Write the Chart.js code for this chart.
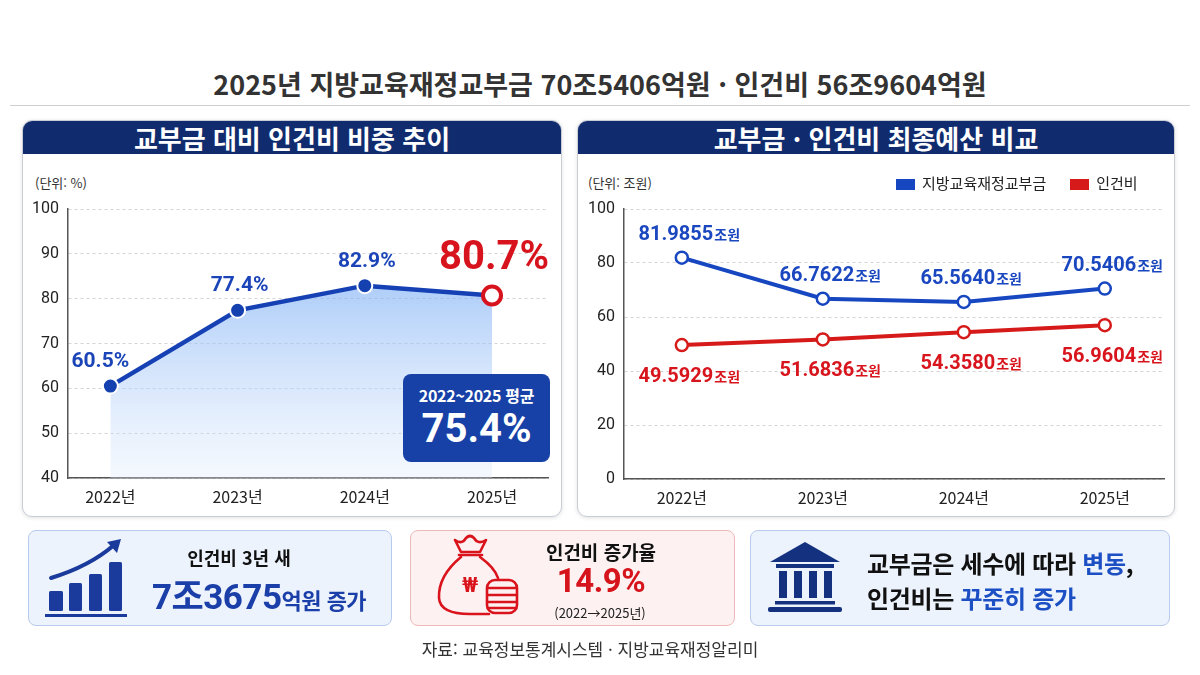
<!DOCTYPE html>
<html lang="ko">
<head>
<meta charset="utf-8">
<script src="https://cdn.jsdelivr.net/npm/chart.js@4.4.1/dist/chart.umd.min.js"></script>
<style>
  html,body{margin:0;padding:0;}
  body{width:1200px;height:675px;position:relative;overflow:hidden;background:#fff;
       font-family:"Noto Sans CJK KR","Noto Sans",sans-serif;color:#222;}
  .abs{position:absolute;}
  #title{left:0;top:64px;width:1200px;text-align:center;font-size:27px;font-weight:600;color:#333;letter-spacing:0px;}
  #rule{left:10px;top:105px;width:1180px;height:1px;background:#cfcfcf;}
  .panel{position:absolute;border:1px solid #c9cdd6;border-radius:10px;background:#fff;box-shadow:0 1px 4px rgba(0,0,0,0.12);overflow:hidden;}
  .hdr{position:absolute;left:0;top:0;right:0;height:33px;background:#112c6e;color:#fff;font-weight:700;font-size:26px;text-align:center;line-height:33px;letter-spacing:0px;}
  .unit{position:absolute;font-size:13px;color:#333;}
  .cw{position:absolute;left:0;top:32px;}
  .card{position:absolute;border-radius:8px;box-sizing:border-box;}
  .blue{background:#edf3fc;border:1px solid #b7cbee;}
  .red{background:#fdf1f1;border:1px solid #f0b9b9;}
  .t{position:absolute;white-space:nowrap;font-weight:700;}
</style>
</head>
<body>
<div id="title" class="abs">2025년 지방교육재정교부금 70조5406억원 · 인건비 56조9604억원</div>
<div id="rule" class="abs"></div>

<div class="panel" style="left:22px;top:120px;width:538px;height:395px;">
  <div class="hdr">교부금 대비 인건비 비중 추이</div>
  <div class="unit" style="left:12px;top:52px;">(단위: %)</div>
  <div class="cw" style="width:538px;height:363px;"><canvas id="c1"></canvas></div>
</div>

<div class="panel" style="left:577px;top:120px;width:596px;height:395px;">
  <div class="hdr">교부금 · 인건비 최종예산 비교</div>
  <div class="unit" style="left:10px;top:52px;">(단위: 조원)</div>
  <div class="cw" style="width:596px;height:363px;"><canvas id="c2"></canvas></div>
  <div id="legend" class="abs" style="left:318px;top:51px;font-size:15px;color:#222;white-space:nowrap;"></div>
</div>

<div class="abs" style="left:403px;top:374px;width:147px;height:88px;background:#1741a6;border-radius:8px;color:#fff;text-align:center;">
  <div style="font-size:16px;font-weight:700;margin-top:11px;line-height:20px;letter-spacing:-0.3px;">2022~2025 평균</div>
  <div id="avg" style="font-size:40px;font-weight:700;line-height:44px;margin-top:2px;font-family:Roboto,'Noto Sans CJK KR',sans-serif;"></div>
</div>

<!-- cards -->
<div class="card blue" style="left:28px;top:530px;width:364px;height:96px;"></div>
<div class="card red" style="left:410px;top:530px;width:325px;height:96px;"></div>
<div class="card blue" style="left:750px;top:530px;width:420px;height:96px;"></div>

<svg class="abs" style="left:0;top:0;" width="1200" height="675" viewBox="0 0 1200 675">
  <!-- card1 icon -->
  <g fill="#1a3a9c">
    <rect x="49" y="591" width="14" height="20" rx="1.5"/>
    <rect x="69" y="583" width="13" height="28" rx="1.5"/>
    <rect x="89" y="574" width="13" height="37" rx="1.5"/>
    <rect x="109" y="562" width="13" height="49" rx="1.5"/>
    <rect x="45" y="614" width="82" height="3"/>
  </g>
  <path d="M51 578 Q90 566 114 545" stroke="#1a3a9c" stroke-width="4" fill="none" stroke-linecap="round"/>
  <path d="M121 539 L107 542 L117 553 Z" fill="#1a3a9c"/>
  <!-- card2 icon -->
  <g stroke="#d9141c" stroke-width="2.6" fill="none" stroke-linejoin="round" stroke-linecap="round">
    <path d="M455 540 Q462 545 466 538 Q470 534 474 538 Q478 545 486 540 L480 552 L461 552 Z"/>
    <path d="M459 555 L482 555"/>
    <path d="M461 557 Q438 576 439 598 Q440 614 470 614 L489 614"/>
    <path d="M480 557 Q495 568 498 578"/>
    <rect x="487" y="580" width="30" height="33" rx="8"/>
    <path d="M488 588 L516 588 M488 595 L516 595 M488 602 L516 602 M488 608 L516 608"/>
  </g>
  <text x="470" y="592" text-anchor="middle" font-size="20" font-weight="700" fill="#d9141c" font-family="Roboto,'Noto Sans CJK KR',sans-serif">₩</text>
  <!-- card3 icon -->
  <g fill="#13317f">
    <path d="M805 542 L840 562 L770 562 Z"/>
    <rect x="776" y="564" width="58" height="4"/>
    <rect x="779" y="571" width="8" height="27"/>
    <rect x="794" y="571" width="8" height="27"/>
    <rect x="809" y="571" width="8" height="27"/>
    <rect x="824" y="571" width="8" height="27"/>
    <rect x="775" y="601" width="60" height="3.5"/>
    <rect x="768" y="607" width="74" height="5" rx="2"/>
  </g>
</svg>

<div class="t" style="left:239px;top:544px;transform:translateX(-50%);font-size:18px;color:#111;">인건비 3년 새</div>
<div class="t" style="left:259px;top:568px;transform:translateX(-50%);color:#1b3fa8;letter-spacing:-0.5px;"><span style="font-size:35px;font-family:Roboto,'Noto Sans CJK KR',sans-serif;">7조3675</span><span style="font-size:22px;">억원 증가</span></div>

<div class="t" style="left:601px;top:538px;transform:translateX(-50%);font-size:19px;color:#111;">인건비 증가율</div>
<div class="t" style="left:601px;top:561px;transform:translateX(-50%);font-size:33px;color:#d6141c;font-family:Roboto,'Noto Sans CJK KR',sans-serif;letter-spacing:-0.5px;">14.9%</div>
<div class="t" style="left:600px;top:603px;transform:translateX(-50%);font-size:13px;font-weight:400;color:#222;">(2022→2025년)</div>

<div class="t" style="left:867px;top:545px;font-size:24px;color:#111;letter-spacing:-0.3px;">교부금은 세수에 따라 <span style="color:#1c4fc4;">변동</span>,</div>
<div class="t" style="left:867px;top:580px;font-size:24px;color:#111;letter-spacing:-0.3px;">인건비는 <span style="color:#1c4fc4;">꾸준히 증가</span></div>

<div class="abs" style="left:590px;top:636px;transform:translateX(-50%);font-size:17px;color:#333;white-space:nowrap;">자료: 교육정보통계시스템 · 지방교육재정알리미</div>

<script>
// ---- data ----
const years = ['2022년', '2023년', '2024년', '2025년'];
const ratioPct = [60.5, 77.4, 82.9, 80.7];          // 교부금 대비 인건비 비중 (%)
const ratioAvg = 75.4;                               // 2022~2025 평균
const grantTril = [81.9855, 66.7622, 65.5640, 70.5406]; // 지방교육재정교부금 (조원)
const laborTril = [49.5929, 51.6836, 54.3580, 56.9604]; // 인건비 (조원)
const seriesNames = ['지방교육재정교부금', '인건비'];
const ratioTicks = [40, 50, 60, 70, 80, 90, 100];
const budgetTicks = [0, 20, 40, 60, 80, 100];

// ---- styles ----
const FONT = '"Noto Sans CJK KR","Noto Sans",sans-serif';
const NUM = 'Roboto,"Noto Sans CJK KR",sans-serif';
const BLUE = '#1541b4';
const RED = '#d7141d';

document.getElementById('avg').textContent = ratioAvg.toFixed(1) + '%';
document.getElementById('legend').innerHTML =
  '<span style="display:inline-block;width:19px;height:11px;background:#1747c0;vertical-align:-1px;margin-right:7px;"></span>' + seriesNames[0] +
  '<span style="display:inline-block;width:19px;height:11px;background:#d61a1a;vertical-align:-1px;margin:0 7px 0 24px;"></span>' + seriesNames[1];

function xScale(min, max, afterFitH) {
  return {
    type: 'linear', min: min, max: max,
    afterBuildTicks: s => { s.ticks = years.map((_, i) => ({ value: i })); },
    afterFit: s => { s.height = afterFitH; },
    grid: { display: false, drawTicks: false },
    border: { display: true, color: '#555', width: 1.5 },
    ticks: { padding: 9, color: '#222', font: { family: FONT, size: 16 }, callback: v => years[v] }
  };
}
function yScale(tickVals, w) {
  return {
    min: tickVals[0], max: tickVals[tickVals.length - 1],
    afterBuildTicks: s => { s.ticks = tickVals.map(v => ({ value: v })); },
    afterFit: s => { s.width = w; },
    grid: { color: '#d4d4d4', lineWidth: 1, drawTicks: false },
    border: { display: true, color: '#555', width: 1.5, dash: [3, 3] },
    ticks: { padding: 9, color: '#222', font: { family: NUM, size: 16 } }
  };
}

// left chart
const lbl1 = {
  id: 'lbl1',
  afterDatasetsDraw(chart) {
    const c = chart.ctx;
    chart.getDatasetMeta(0).data.forEach((p, i) => {
      const last = i === ratioPct.length - 1;
      c.save();
      c.textAlign = 'center';
      c.textBaseline = 'alphabetic';
      c.fillStyle = last ? RED : '#1a44b8';
      c.font = last ? 'bold 40px ' + NUM : 'bold 21px ' + NUM;
      const dx = i === 0 ? -10 : (last ? 2 : 2);
      c.fillText(ratioPct[i].toFixed(1) + '%', p.x + dx, p.y - (last ? 27 : 19));
      c.restore();
    });
  }
};

new Chart(document.getElementById('c1'), {
  type: 'line',
  data: {
    datasets: [{
      data: ratioPct.map((v, i) => ({ x: i, y: v })),
      borderColor: BLUE, borderWidth: 4.5, tension: 0,
      fill: 'start',
      backgroundColor: (ctx) => {
        const ch = ctx.chart, a = ch.chartArea;
        if (!a) return 'rgba(120,170,240,0.4)';
        const g = ch.ctx.createLinearGradient(0, a.top + 70, 0, a.bottom);
        g.addColorStop(0, 'rgba(120,172,245,0.62)');
        g.addColorStop(1, 'rgba(225,236,252,0.35)');
        return g;
      },
      pointRadius: ratioPct.map((_, i) => i === ratioPct.length - 1 ? 9 : 7.5),
      pointBackgroundColor: ratioPct.map((_, i) => i === ratioPct.length - 1 ? '#fff' : '#1440b0'),
      pointBorderColor: ratioPct.map((_, i) => i === ratioPct.length - 1 ? RED : '#fff'),
      pointBorderWidth: ratioPct.map((_, i) => i === ratioPct.length - 1 ? 4 : 2),
      clip: false
    }]
  },
  options: {
    responsive: true, maintainAspectRatio: false, animation: false,
    layout: { padding: { left: 0, right: 7, top: 56, bottom: 0 } },
    plugins: { legend: { display: false }, tooltip: { enabled: false } },
    scales: { x: xScale(-0.333, 3.44, 38), y: yScale(ratioTicks, 45) }
  },
  plugins: [lbl1]
});

// right chart
function drawTril(c, val, x, y, color) {
  const a = val.toFixed(4), b = '조원';
  c.font = 'bold 20px ' + NUM;
  const wa = c.measureText(a).width;
  c.font = 'bold 14px ' + FONT;
  const wb = c.measureText(b).width;
  let sx = x - (wa + wb) / 2;
  c.fillStyle = color;
  c.textAlign = 'left';
  c.textBaseline = 'alphabetic';
  c.font = 'bold 20px ' + NUM;
  c.fillText(a, sx, y);
  c.font = 'bold 14px ' + FONT;
  c.fillText(b, sx + wa + 1, y);
}
const lbl2 = {
  id: 'lbl2',
  afterDatasetsDraw(chart) {
    const c = chart.ctx;
    c.save();
    chart.getDatasetMeta(0).data.forEach((p, i) => drawTril(c, grantTril[i], p.x + 7, p.y - 18, '#1a47bf'));
    chart.getDatasetMeta(1).data.forEach((p, i) => drawTril(c, laborTril[i], p.x + 7, p.y + 37, '#d8141c'));
    c.restore();
  }
};

new Chart(document.getElementById('c2'), {
  type: 'line',
  data: {
    datasets: [
      { label: seriesNames[0], data: grantTril.map((v, i) => ({ x: i, y: v })),
        borderColor: '#1747c0', borderWidth: 4, tension: 0, fill: false,
        pointRadius: 6, pointBackgroundColor: '#fff', pointBorderColor: '#1747c0', pointBorderWidth: 2.5 },
      { label: seriesNames[1], data: laborTril.map((v, i) => ({ x: i, y: v })),
        borderColor: '#d61a1a', borderWidth: 4, tension: 0, fill: false,
        pointRadius: 6, pointBackgroundColor: '#fff', pointBorderColor: '#d61a1a', pointBorderWidth: 2.5 }
    ]
  },
  options: {
    responsive: true, maintainAspectRatio: false, animation: false,
    layout: { padding: { left: 0, right: 10, top: 56, bottom: 0 } },
    plugins: { legend: { display: false }, tooltip: { enabled: false } },
    scales: { x: xScale(-0.41, 3.42, 37), y: yScale(budgetTicks, 46) }
  },
  plugins: [lbl2]
});
</script>
</body>
</html>
